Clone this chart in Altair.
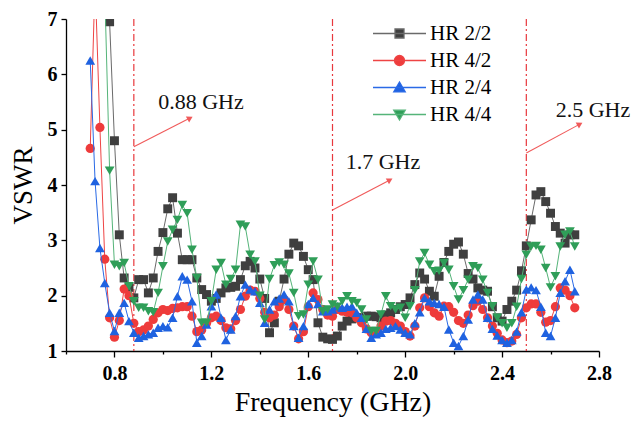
import altair as alt
import pandas as pd

# ---------------- data ----------------
freq = [round(0.70 + 0.02 * i, 2) for i in range(101)]

hr22 = [None, None, None, 12.0, 6.95, 4.8, 3.1, 2.32, 2.15, 1.96,
        2.29, 2.29, 2.05, 2.32, 2.8, 3.14, 3.57, 3.77, 3.13, 2.65,
        2.65, 2.65, 2.32, 2.11, 2.02, 1.9, 1.95, 2.05, 2.14, 2.15,
        2.17, 2.29, 2.54, 2.62, 2.5, 2.30, 1.95, 1.33, 1.51, 1.9,
        2.3, 2.75, 2.95, 2.90, 2.71, 2.47, 2.29, 1.51, 1.25, 1.22,
        1.21, 1.27, 1.45, 1.54, 1.58, 1.6, 1.6, 1.63, 1.63, 1.62,
        1.6, 1.65, 1.69, 1.75, 1.8, 1.84, 1.96, 2.2, 2.41, 2.3,
        2.08, 1.99, 2.35, 2.6, 2.8, 2.93, 2.97, 2.75, 2.4, 2.3,
        2.14, 2.1, 2.08, 1.8, 1.6, 1.54, 1.75, 1.9, 2.1, 2.45,
        2.9, 3.37, 3.82, 3.88, 3.70, 3.49, 3.25, 3.13, 2.95, 3.1,
        3.1]

hr42 = [4.66, 7.7, 5.04, 2.66, 1.6, 1.25, 1.55, 2.12, 2.0, 1.5,
        1.35, 1.38, 1.45, 1.57, 1.69, 1.75, 1.73, 1.77, 1.78, 1.8,
        1.8, 1.63, 1.35, 1.38, 1.5, 1.6, 1.63, 1.55, 1.42, 1.4,
        1.55, 1.75, 1.99, 2.1, 2.08, 1.95, 1.7, 1.6, 1.65, 1.8,
        1.93, 1.75, 1.45, 1.22, 1.35, 1.8, 2.05, 1.93, 1.75, 1.65,
        1.63, 1.75, 1.72, 1.7, 1.69, 1.6, 1.51, 1.4, 1.33, 1.35,
        1.45, 1.54, 1.55, 1.5, 1.45, 1.35, 1.27, 1.45, 1.78, 1.96,
        1.8, 1.69, 1.63, 1.81, 1.8, 1.7, 1.55, 1.5, 1.65, 1.82,
        1.9, 1.75, 1.6, 1.45, 1.32, 1.2, 1.15, 1.18, 1.3, 1.6,
        1.78, 1.85, 1.85, 1.7, 1.52, 1.55, 1.8, 2.14, 2.1, 2.0,
        1.78]

hr24 = [6.25, 4.07, 2.86, 2.23, 1.69, 1.36, 1.69, 1.87, 1.54, 1.33,
        1.24, 1.27, 1.3, 1.33, 1.42, 1.45, 1.43, 1.6, 1.99, 2.35,
        2.29, 1.9, 1.15, 1.27, 1.48, 1.81, 2.02, 1.6, 1.2, 1.39,
        1.63, 1.99, 2.2, 2.11, 2.08, 1.87, 1.51, 1.75, 1.9, 1.95,
        2.02, 1.9, 1.45, 1.24, 1.45, 1.85, 1.96, 1.85, 1.72, 1.72,
        1.75, 1.81, 1.78, 1.8, 1.81, 1.69, 1.6, 1.4, 1.24, 1.3,
        1.33, 1.4, 1.42, 1.45, 1.39, 1.33, 1.3, 1.5, 1.7, 1.96,
        1.9, 1.87, 1.85, 1.8, 1.39, 1.15, 1.09, 1.27, 1.57, 1.93,
        2.02, 1.93, 1.6, 1.4, 1.28, 1.2, 1.15, 1.2, 1.35, 1.7,
        2.11, 2.15, 2.1, 1.8, 1.33, 1.27, 1.6, 2.05, 2.26, 2.47,
        2.08]

hr44 = [None, None, None, 7.5, 4.26, 2.56, 2.53, 2.59, 2.17, 1.9,
        1.78, 1.78, 1.72, 1.7, 2.05, 2.53, 2.98, 3.19, 3.37, 3.64,
        3.49, 2.83, 2.32, 1.51, 1.51, 1.9, 2.47, 2.59, 2.2, 2.3,
        2.47, 3.28, 3.25, 2.74, 2.62, 2.0, 1.57, 2.3, 2.55, 2.6,
        2.56, 2.4, 2.05, 1.63, 1.66, 2.2, 2.62, 2.29, 1.72, 1.75,
        1.84, 1.8, 1.9, 1.99, 1.9, 1.87, 1.75, 1.57, 1.36, 1.36,
        1.66, 1.99, 1.81, 1.75, 1.78, 1.6, 1.81, 2.1, 2.62, 2.77,
        2.56, 2.44, 2.45, 2.59, 2.47, 2.17, 1.93, 2.1, 2.29, 2.53,
        2.5, 2.29, 2.05, 1.81, 1.6, 1.5, 1.42, 1.5, 1.8, 2.3,
        2.74, 2.89, 2.9, 2.83, 2.5, 2.15, 2.35, 2.89, 3.1, 3.16,
        2.89]

series_names = ["HR 2/2", "HR 4/2", "HR 2/4", "HR 4/4"]
series_values = [hr22, hr42, hr24, hr44]
marker_colors = ["#3f3f3f", "#ee3b3b", "#1f62e0", "#2f9e58"]
line_colors = ["#6a6a6a", "#ee4444", "#2a6ae6", "#55b479"]
marker_shapes = ["square", "circle", "triangle-up", "triangle-down"]
marker_sizes = [80, 85, 95, 95]
legend_paths = [
    "M-5.3,0H5.3M-0.9,-0.9H0.9V0.9H-0.9Z",
    "M-5.3,0H5.3M-1,0A1,1,0,1,1,1,0A1,1,0,1,1,-1,0Z",
    "M-5.3,0H5.3M0,-1.1L1.15,0.85L-1.15,0.85Z",
    "M-5.3,0H5.3M0,1.1L1.15,-0.85L-1.15,-0.85Z",
]

marker_lines = [0.88, 1.7, 2.5]
ann_text = ["0.88 GHz", "1.7 GHz", "2.5 GHz"]
ann_x = [1.157, 1.908, 2.775]
ann_y = [5.50, 4.42, 5.36]
arrow_x0 = [0.88, 1.70, 2.50]
arrow_y0 = [4.69, 3.55, 4.58]
arrow_x1 = [1.112, 1.937, 2.721]
arrow_y1 = [5.21, 4.09, 5.10]

x_ticks = [round(0.6 + 0.2 * i, 1) for i in range(12)]
y_ticks = [1 + 0.5 * i for i in range(13)]

# ---------------- build tables ----------------
rows = []
for k, (name, vals) in enumerate(zip(series_names, series_values)):
    for f, v in zip(freq, vals):
        rows.append({"series": name, "f": f, "v": v, "k": k})
df = pd.DataFrame(rows)

ann_df = pd.DataFrame({"t": ann_text, "x": ann_x, "y": ann_y})
arr_df = pd.DataFrame({"x0": arrow_x0, "y0": arrow_y0, "x1": arrow_x1, "y1": arrow_y1})
vline_df = pd.DataFrame({"x": marker_lines})

SERIF = "Liberation Serif"
xscale = alt.Scale(domain=[0.6, 2.8], nice=False, zero=False)
yscale = alt.Scale(domain=[1, 7], nice=False, zero=False)

x_axis = alt.Axis(
    values=x_ticks,
    labelExpr="round(datum.value*10) % 4 == 0 ? format(datum.value, '.1f') : ''",
    tickSize={"condition": {"test": "round(datum.value*10) % 4 == 0", "value": 6}, "value": 3},
    title="Frequency (GHz)",
    grid=False,
    labelFlush=False,
    labelOverlap=False,
)
y_axis = alt.Axis(
    values=y_ticks,
    labelExpr="datum.value % 1 == 0 ? format(datum.value, 'd') : ''",
    tickSize={"condition": {"test": "datum.value % 1 == 0", "value": 5}, "value": 3},
    title="VSWR",
    grid=False,
    labelFlush=False,
    labelOverlap=False,
)

X = alt.X("f:Q", scale=xscale, axis=x_axis)
Y = alt.Y("v:Q", scale=yscale, axis=y_axis)

layers = []

# vertical dash-dot marker lines
layers.append(
    alt.Chart(vline_df).mark_rule(color="#e8383d", strokeWidth=1.2, strokeDash=[7, 3, 2, 3]).encode(
        x=alt.X("x:Q", scale=xscale)
    )
)

# series: line then markers, in drawing order
for k, name in enumerate(series_names):
    base = alt.Chart(df[df["series"] == name])
    layers.append(
        base.mark_line(color=line_colors[k], strokeWidth=1.0, clip=True).encode(x=X, y=Y, order="f:Q")
    )
    layers.append(
        base.mark_point(
            filled=True, opacity=1, shape=marker_shapes[k], size=marker_sizes[k],
            color=marker_colors[k], clip=True
        ).encode(x=X, y=Y)
    )

leg = alt.Legend(
    title=None, orient="none", legendX=323, legendY=4, padding=0,
    labelFont=SERIF, labelFontSize=21, labelColor="black",
    labelOffset=20, rowPadding=5, symbolSize=100, symbolStrokeWidth=1.3,
)

# legend-only layer (no data drawn)
legend_layer = (
    alt.Chart(df)
    .transform_filter("datum.f < 0")
    .mark_point(filled=True, opacity=1, size=100)
    .encode(
        x=alt.X("f:Q", scale=xscale),
        y=alt.Y("v:Q", scale=yscale),
        color=alt.Color("series:N", scale=alt.Scale(domain=series_names, range=marker_colors), legend=leg),
        stroke=alt.Stroke("series:N", scale=alt.Scale(domain=series_names, range=line_colors), legend=leg),
        shape=alt.Shape("series:N", scale=alt.Scale(domain=series_names, range=legend_paths), legend=leg),
    )
)
layers.append(legend_layer)

# annotation arrows and labels
ARROW = "#f05a5a"
layers.append(
    alt.Chart(arr_df).mark_rule(color=ARROW, strokeWidth=1.1).encode(
        x=alt.X("x0:Q", scale=xscale), y=alt.Y("y0:Q", scale=yscale),
        x2="x1:Q", y2="y1:Q",
    )
)
layers.append(
    alt.Chart(arr_df).mark_point(shape="triangle-up", filled=True, size=45, angle=61, color=ARROW, opacity=1).encode(
        x=alt.X("x1:Q", scale=xscale), y=alt.Y("y1:Q", scale=yscale)
    )
)
layers.append(
    alt.Chart(ann_df).mark_text(font=SERIF, fontSize=22, color="#111111").encode(
        x=alt.X("x:Q", scale=xscale), y=alt.Y("y:Q", scale=yscale), text="t:N"
    )
)

chart = (
    alt.layer(*layers)
    .properties(
        width=533, height=332,
        background="white",
        autosize=alt.AutoSizeParams(type="none"),
        padding={"left": 66, "top": 19, "right": 34, "bottom": 70},
    )
    .configure_view(stroke=None)
    .configure_axis(
        domainColor="black", domainWidth=1.3, tickColor="black", tickWidth=1.3,
        labelFont=SERIF, labelFontWeight="bold", labelFontSize=20, labelColor="black",
        titleFont=SERIF, titleFontWeight="normal", titleColor="black",
    )
    .configure_axisX(labelPadding=6, titleFontSize=28, titlePadding=5)
    .configure_axisY(labelPadding=4, titleFontSize=27, titlePadding=10)
)

chart.save("out.html", embed_options={"renderer": "svg", "actions": False})
